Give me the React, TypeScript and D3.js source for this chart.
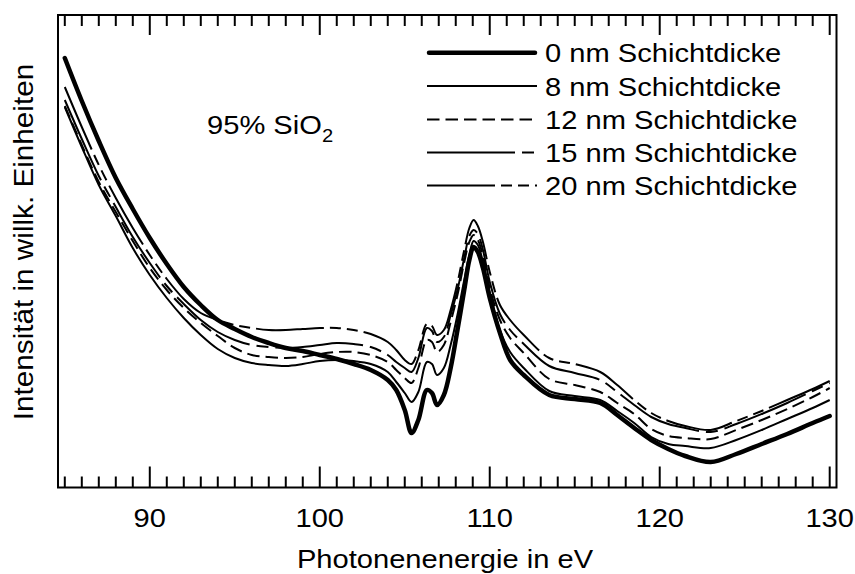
import React from "react";
import * as d3 from "d3";

// Photon energy (eV)
const energy = [85, 86, 87, 88, 89, 90, 91, 92, 93, 94, 95, 96, 97, 98, 99, 100, 101, 102, 103, 104, 104.5, 105, 105.4, 105.8, 106.3, 106.6, 106.9, 107.3, 107.7, 108.1, 108.5, 108.8, 109.05, 109.3, 109.6, 110, 110.6, 111.2, 112, 113.5, 115, 116.5, 117.5, 118.5, 119.5, 120.5, 121.5, 123, 124.5, 126, 127.5, 129, 130];

// Intensity (arbitrary units) for each layer thickness
const int0nm = [430, 387, 347, 310, 279, 250, 224, 201, 183, 168, 159, 151, 145, 140, 137, 133, 129, 124, 118, 108, 98, 78, 55, 68, 98, 95, 83, 93, 120, 158, 198, 228, 241, 236, 220, 190, 155, 128, 113, 93, 89, 85, 73, 60, 48, 39, 32, 26, 34, 44, 54, 65, 72];
const int8nm = [381, 341, 303, 272, 240, 213, 190, 170, 153, 139, 130, 125, 123, 122, 124, 127, 128, 127, 124, 116, 106, 95, 86, 96, 126, 124, 113, 120, 143, 173, 208, 233, 247, 243, 226, 196, 158, 136, 120, 97, 92, 88, 77, 65, 51, 44, 42, 40, 48, 58, 69, 80, 88];
const int12nm = [382, 343, 306, 276, 247, 220, 198, 180, 165, 152, 140, 133, 131, 130, 131, 134, 136, 136, 133, 126, 118, 110, 105, 120, 148, 146, 136, 143, 166, 193, 226, 246, 253, 248, 232, 200, 168, 150, 135, 109, 103, 96, 85, 74, 59, 52, 50, 49, 58, 68, 79, 91, 100];
const int15nm = [388, 349, 312, 281, 251, 225, 202, 184, 168, 156, 148, 143, 141, 140, 141, 143, 145, 144, 141, 133, 126, 120, 116, 130, 160, 157, 146, 151, 173, 198, 230, 252, 258, 254, 238, 206, 174, 158, 144, 122, 115, 108, 96, 83, 71, 64, 60, 56, 64, 74, 85, 97, 105];
const int20nm = [401, 361, 323, 290, 260, 233, 209, 189, 175, 168, 163, 160, 158, 158, 159, 160, 160, 158, 154, 146, 138, 128, 124, 138, 164, 162, 153, 158, 178, 205, 238, 260, 268, 262, 246, 216, 183, 168, 153, 130, 124, 116, 103, 88, 75, 67, 62, 58, 67, 77, 88, 99, 107];

const seriesLabels = ["0 nm Schichtdicke", "8 nm Schichtdicke", "12 nm Schichtdicke", "15 nm Schichtdicke", "20 nm Schichtdicke"];
const seriesValues = [int0nm, int8nm, int12nm, int15nm, int20nm];

const majorTicks = [90, 100, 110, 120, 130];
const minorTicks = [85, 86, 87, 88, 89, 91, 92, 93, 94, 95, 96, 97, 98, 99, 101, 102, 103, 104, 105, 106, 107, 108, 109, 111, 112, 113, 114, 115, 116, 117, 118, 119, 121, 122, 123, 124, 125, 126, 127, 128, 129];

const xTitle = "Photonenenergie in eV";
const yTitle = "Intensität in willk. Einheiten";

const styles = [
  { w: 4.5, dash: "none", cap: "round" },
  { w: 2, dash: "none", cap: "butt" },
  { w: 2, dash: "12.5,6", cap: "butt" },
  { w: 2, dash: "88,7,12,7", cap: "butt" },
  { w: 2, dash: "68,6,11,6,11,6", cap: "butt" },
];

const FONT = "'Liberation Sans', Arial, Helvetica, sans-serif";
const SX = 1.12;

export default function App() {
  const left = 58, right = 836.5, top = 15, bottom = 487.5;
  const x = d3.scaleLinear().domain([84.6, 130.4]).range([left, right]);
  const y = d3.scaleLinear().domain([0, 473]).range([488, 15]);
  const line = d3
    .line<number>()
    .x((_, i) => x(energy[i]))
    .y((d) => y(d))
    .curve(d3.curveCatmullRom.alpha(0.5));

  const legendX0 = 427, legendX1 = 537, legendTextX = 545;
  const legendY = [52.7, 86, 119.5, 152.5, 185.5];

  return (
    <svg
      width={855}
      height={574}
      style={{ position: "absolute", left: 0, top: 0, background: "#fff" }}
      fontFamily={FONT}
    >
      <rect x={0} y={0} width={855} height={574} fill="#fff" />
      {/* curves */}
      {seriesValues.map((vals, k) => (
        <path
          key={k}
          d={line(vals) || ""}
          fill="none"
          stroke="#000"
          strokeWidth={styles[k].w}
          strokeDasharray={styles[k].dash}
          strokeLinecap={styles[k].cap as any}
          strokeLinejoin="round"
        />
      ))}
      {/* frame */}
      <rect x={left} y={top} width={right - left} height={bottom - top} fill="none" stroke="#000" strokeWidth={2} />
      {/* ticks */}
      {majorTicks.map((t) => (
        <g key={"M" + t}>
          <line x1={x(t)} x2={x(t)} y1={bottom} y2={bottom - 21} stroke="#000" strokeWidth={2} />
          <line x1={x(t)} x2={x(t)} y1={top} y2={top + 20} stroke="#000" strokeWidth={2} />
          <text
            transform={`translate(${x(t)},527) scale(${SX},1)`}
            textAnchor="middle"
            fontSize={26}
            fill="#000"
          >
            {t}
          </text>
        </g>
      ))}
      {minorTicks.map((t) => (
        <g key={"m" + t}>
          <line x1={x(t)} x2={x(t)} y1={bottom} y2={bottom - 11} stroke="#000" strokeWidth={2} />
          <line x1={x(t)} x2={x(t)} y1={top} y2={top + 11} stroke="#000" strokeWidth={2} />
        </g>
      ))}
      {/* axis titles */}
      <text transform={`translate(445,568) scale(${SX},1)`} textAnchor="middle" fontSize={26} fill="#000">
        {xTitle}
      </text>
      <text transform={`translate(33,242) rotate(-90) scale(1.1,1)`} textAnchor="middle" fontSize={27} fill="#000">
        {yTitle}
      </text>
      {/* annotation */}
      <text transform={`translate(207,134) scale(${SX},1)`} fontSize={26} fill="#000">
        95% SiO
        <tspan fontSize={18} dy={8}>2</tspan>
      </text>
      {/* legend */}
      {seriesLabels.map((lab, k) => (
        <g key={"L" + k}>
          <line
            x1={legendX0 + (k === 0 ? 2 : 0)}
            x2={legendX1 - (k === 0 ? 2 : 0)}
            y1={legendY[k]}
            y2={legendY[k]}
            stroke="#000"
            strokeWidth={styles[k].w}
            strokeDasharray={styles[k].dash}
            strokeLinecap={styles[k].cap as any}
          />
          <text transform={`translate(${legendTextX},${legendY[k] + 9.5}) scale(${SX},1)`} fontSize={26} fill="#000">
            {lab}
          </text>
        </g>
      ))}
    </svg>
  );
}
